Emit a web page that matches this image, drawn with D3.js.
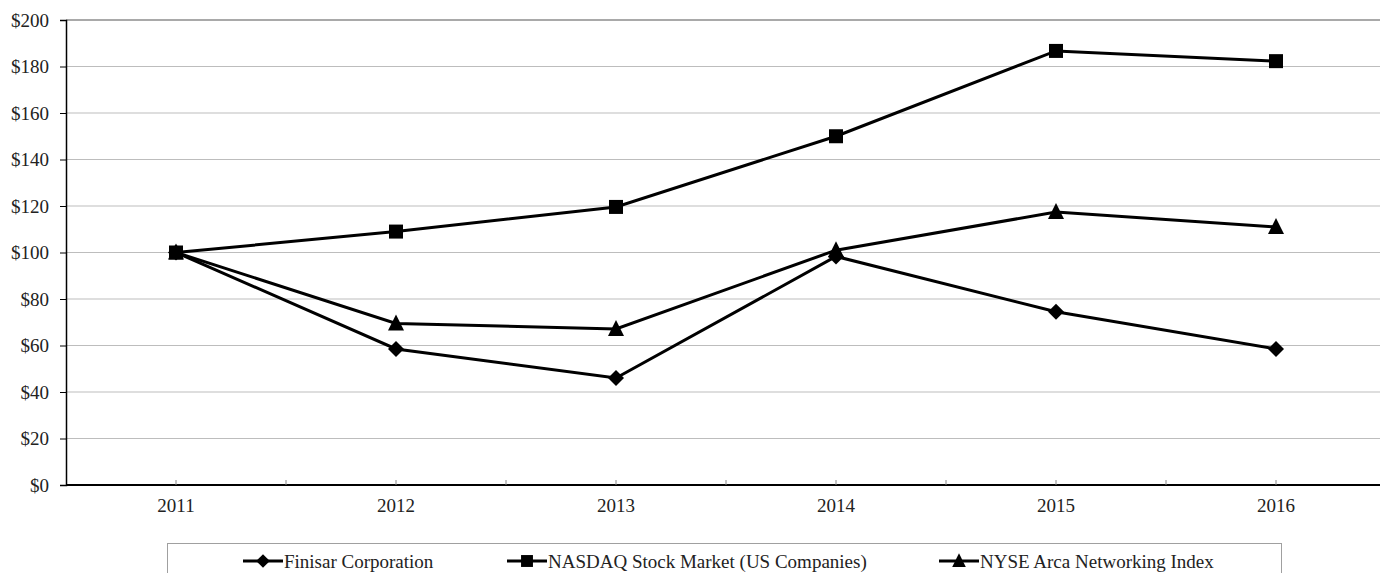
<!DOCTYPE html>
<html>
<head>
<meta charset="utf-8">
<script src="https://cdn.jsdelivr.net/npm/d3@7"></script>
<style>
  body { margin: 0; background: #fff; }
  svg text { font-family: "Liberation Serif", "Times New Roman", serif; fill: #222; }
</style>
</head>
<body>
<svg id="chart" width="1380" height="573"></svg>
<script>
var years = ['2011', '2012', '2013', '2014', '2015', '2016'];
var finisar = [100, 58.5, 46, 98.3, 74.5, 58.5];
var nasdaq = [100, 109, 119.6, 150, 186.7, 182.3];
var nyse = [100, 69.5, 67.1, 101, 117.4, 111];
var yTicks = [0, 20, 40, 60, 80, 100, 120, 140, 160, 180, 200];

var series = [
  {name: 'Finisar Corporation', values: finisar, marker: 'diamond'},
  {name: 'NASDAQ Stock Market (US Companies)', values: nasdaq, marker: 'square'},
  {name: 'NYSE Arca Networking Index', values: nyse, marker: 'triangle'}
];

var svg = d3.select('#chart');
var plotLeft = 66, plotRight = 1386, plotTop = 20, plotBottom = 485;

var x = d3.scaleBand().domain(years).range([plotLeft, plotRight]);
var y = d3.scaleLinear().domain([0, 200]).range([plotBottom, plotTop]);
var cx = function(d) { return x(d) + x.bandwidth() / 2; };

// grid
svg.append('g').selectAll('line').data(yTicks.slice(1)).enter().append('line')
  .attr('x1', plotLeft).attr('x2', 1380)
  .attr('y1', function(d) { return y(d); }).attr('y2', function(d) { return y(d); })
  .attr('stroke', function(d) { return d === 200 ? '#8c8c8c' : '#bdbdbd'; })
  .attr('stroke-width', function(d) { return d === 200 ? 1.5 : 1; });

// y axis
var yAxis = svg.append('g').attr('transform', 'translate(' + plotLeft + ',0)')
  .call(d3.axisLeft(y).tickValues(yTicks).tickSize(6).tickPadding(11).tickFormat(function(d) { return '$' + d; }));
yAxis.select('.domain').attr('stroke', '#000').attr('stroke-width', 1.5);
yAxis.selectAll('.tick line').attr('stroke', '#000');
yAxis.selectAll('text').style('font-size', '19px').attr('fill', '#222');

// x axis
var xAxis = svg.append('g').attr('transform', 'translate(0,' + plotBottom + ')')
  .call(d3.axisBottom(x).tickSize(0).tickPadding(14));
xAxis.select('.domain').remove();
xAxis.selectAll('text').style('font-size', '19px').attr('fill', '#222');
svg.append('line').attr('x1', plotLeft).attr('x2', 1380).attr('y1', plotBottom).attr('y2', plotBottom)
  .attr('stroke', '#000').attr('stroke-width', 2);

var halfTicks = [];
years.forEach(function(d) { halfTicks.push(cx(d)); halfTicks.push(x(d) + x.bandwidth()); });
svg.append('g').selectAll('line').data(halfTicks).enter().append('line')
  .attr('x1', function(d) { return d; }).attr('x2', function(d) { return d; })
  .attr('y1', plotBottom).attr('y2', plotBottom - 5)
  .attr('stroke', '#888');

var symbols = {
  diamond: function(g) { return g.append('path').attr('d', 'M0,-8L8,0L0,8L-8,0Z'); },
  square: function(g) { return g.append('rect').attr('x', -7).attr('y', -7).attr('width', 14).attr('height', 14); },
  triangle: function(g) { return g.append('path').attr('d', 'M0,-9L8,7L-8,7Z'); }
};

var line = d3.line()
  .x(function(d, i) { return cx(years[i]); })
  .y(function(d) { return y(d); });

series.forEach(function(s) {
  svg.append('path').datum(s.values)
    .attr('d', line)
    .attr('fill', 'none').attr('stroke', '#000').attr('stroke-width', 3);
});
series.forEach(function(s) {
  s.values.forEach(function(v, i) {
    var g = svg.append('g').attr('transform', 'translate(' + cx(years[i]) + ',' + y(v) + ')');
    symbols[s.marker](g).attr('fill', '#000');
  });
});

// legend
svg.append('rect').attr('x', 167.5).attr('y', 543.5).attr('width', 1114).attr('height', 40)
  .attr('fill', '#fff').attr('stroke', '#a0a0a0').attr('stroke-width', 1);

var legendX = [243, 507, 939];
series.forEach(function(s, i) {
  var g = svg.append('g').attr('transform', 'translate(' + legendX[i] + ',561)');
  g.append('line').attr('x1', 0).attr('x2', 40).attr('y1', 0).attr('y2', 0)
    .attr('stroke', '#000').attr('stroke-width', 3);
  var m = g.append('g').attr('transform', 'translate(20,0) scale(0.85)');
  symbols[s.marker](m).attr('fill', '#000');
  g.append('text').attr('x', 41).attr('y', 0).attr('dy', '0.35em')
    .style('font-size', '19px').text(s.name);
});
</script>
</body>
</html>
